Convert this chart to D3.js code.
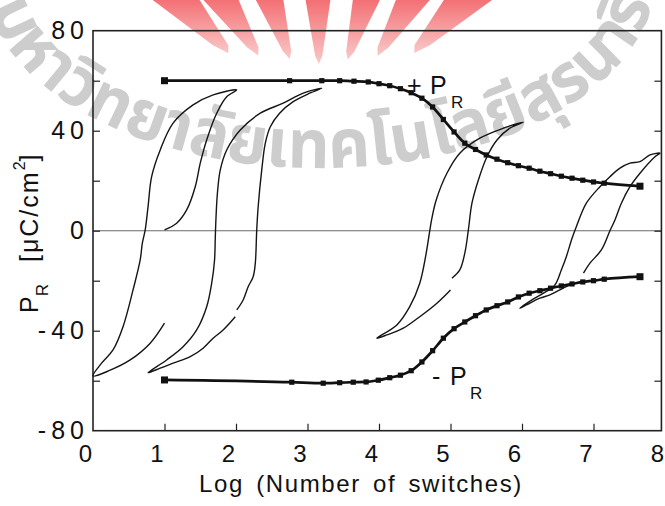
<!DOCTYPE html>
<html><head><meta charset="utf-8">
<script src="https://cdn.jsdelivr.net/npm/d3@7"></script>
<style>
body{margin:0;background:#fff}
svg{display:block}
text{font-family:"Liberation Sans",Arial,Helvetica,sans-serif}
</style>
</head><body>
<svg id="chart" width="665" height="506"></svg>
<script>
// ---------- data ----------
const xTickValues = [0,1,2,3,4,5,6,7,8];
const yTickValues = [-80,-60,-40,-20,0,20,40,60,80];
const yTickLabels = [80,40,0,-40,-80];

const plusX  = [1,2.75,3.2,3.45,3.65,3.85,4.0,4.15,4.3,4.45,4.6,4.75,4.9,5.05,5.2,5.35,5.5,5.65,5.8,5.95,6.1,6.25,6.4,6.55,6.7,6.85,7.0,7.15,7.65];
const plusY  = [60,60,60,60,59.8,59.5,58.8,58,56.8,55.2,53,49.5,44.5,39.5,35,32.5,30.3,28.6,27.2,26,25,23.8,22.8,21.8,21,20.2,19.5,19,17.8];
const minusX = [1,2.78,3.22,3.45,3.64,3.82,3.99,4.15,4.3,4.45,4.6,4.75,4.9,5.05,5.2,5.35,5.5,5.65,5.8,5.95,6.1,6.25,6.4,6.55,6.7,6.85,7.0,7.15,7.65];
const minusY = [-59.7,-60.6,-61,-60.8,-60.6,-60.5,-59.8,-58.8,-57.8,-56,-52.5,-48,-43,-39.2,-36.5,-34,-31.7,-30,-28.5,-26.5,-25,-24,-23,-22.1,-21.3,-20.5,-20,-19.4,-18.4];

const loopA = [[1.0,-37],[0.8,-45],[0.52,-51.7],[0.24,-55.8],[0.0,-58.1],[0.12,-53],[0.28,-47.7],[0.42,-38.4],[0.56,-23.7],[0.66,-11.7],[0.69,-5],[0.73,0.3],[0.77,9.6],[0.82,21.6],[0.94,32.3],[1.12,43],[1.4,50.3],[1.68,54.3],[2.01,56.3],[1.87,53.6],[1.73,47],[1.59,36.3],[1.5,27],[1.43,17.6],[1.31,8.3],[1.17,3],[1.0,0.3]];
const loopB = [[1.99,-34.4],[1.82,-39.7],[1.68,-43],[1.54,-47],[1.36,-50.4],[1.12,-53],[0.94,-55],[0.77,-56.8],[1.03,-51.7],[1.26,-46.4],[1.45,-39.7],[1.59,-30.4],[1.66,-21],[1.7,-11.7],[1.71,-3],[1.72,5],[1.74,15],[1.78,24.3],[1.87,32.3],[2.06,40.3],[2.34,47],[2.66,51],[2.94,55],[3.2,57],[3.03,55],[2.8,51.6],[2.61,47],[2.48,41.6],[2.41,35],[2.36,24.3],[2.31,9.6],[2.29,0.3],[2.27,-13],[2.24,-18.4],[2.17,-22.4],[2.1,-27.7],[2.01,-31.7]];
const loopC = [[5.0,-23.7],[4.81,-29],[4.57,-34.4],[4.34,-39],[4.11,-41.7],[3.97,-43],[4.25,-37.7],[4.43,-30.4],[4.57,-21],[4.66,-9],[4.71,0],[4.74,5],[4.8,12.3],[4.95,23],[5.13,31],[5.41,37],[5.74,41],[6.02,43.4],[5.83,41],[5.65,36.3],[5.51,29.6],[5.39,20.3],[5.3,11],[5.25,0.3],[5.2,-9],[5.13,-15.7],[5.02,-19]];
const loopD = [[6.76,-21],[6.62,-22.4],[6.53,-23.7],[6.39,-25.7],[6.25,-27],[6.06,-29.7],[5.97,-31],[6.15,-27.5],[6.3,-25],[6.46,-21.7],[6.55,-15.7],[6.62,-10.4],[6.7,-3],[6.76,1.6],[6.9,11],[7.09,17.6],[7.23,21.6],[7.37,25],[7.51,27],[7.65,27.6],[7.79,30.3],[7.93,31],[7.86,29.6],[7.65,23],[7.51,17.6],[7.39,11],[7.3,4.3],[7.23,0],[7.11,-7.7],[6.95,-13],[6.86,-17]];
const loops = [loopA, loopB, loopC, loopD];

const watermarkText = "มหาวิทยาลัยเทคโนโลยีสุรนารี";
const rayTopX = [178,222,270,318,366,412,466];

// ---------- drawing ----------
const svg = d3.select("#chart");
const x = d3.scaleLinear().domain([0,8]).range([93,665]);
const y = d3.scaleLinear().domain([-80,80]).range([430.7,30.7]);
const xRight = x(7.95);

// watermark
const defs = svg.append("defs");
const grad = defs.append("linearGradient").attr("id","rayGrad").attr("x1",0).attr("y1",0).attr("x2",0).attr("y2",1);
grad.append("stop").attr("offset","0%").attr("stop-color","#ef3e44");
grad.append("stop").attr("offset","100%").attr("stop-color","#f8b8b8");
const wm = svg.append("g");
const vp = [320,150];
rayTopX.forEach(tx => {
  const th = Math.atan2(tx - vp[0], vp[1]);
  const w = 0.085;
  const pt = (ang, yy) => { const r = (vp[1]-yy)/Math.cos(ang); return [vp[0]+r*Math.sin(ang), yy]; };
  const yb = 60 - 12*Math.abs(Math.sin(th))*1.3;
  const poly = [pt(th-w,-5), pt(th+w,-5), pt(th+w*0.45,yb-4), pt(th,yb+4), pt(th-w*0.45,yb-4)];
  wm.append("polygon").attr("points", poly.map(p=>p.join(",")).join(" ")).attr("fill","url(#rayGrad)").attr("opacity",0.78);
});
const cx=320, cy=-22, rx=335, ry=190;
defs.append("path").attr("id","wmArc").attr("d",`M${cx-rx},${cy} A${rx},${ry} 0 0 0 ${cx+rx},${cy}`);
wm.append("text").attr("font-size",68).attr("font-weight","bold").attr("fill","#cdcdcd").style("fill","#cdcdcd")
  .style("font-family","'Noto Sans Thai','Loma','Garuda','Norasi','DejaVu Sans',sans-serif")
  .append("textPath").attr("href","#wmArc").attr("startOffset",30).attr("textLength",785).attr("lengthAdjust","spacingAndGlyphs")
  .attr("fill","#cdcdcd").style("fill","#cdcdcd")
  .text(watermarkText);

// zero line
svg.append("line").attr("x1",x(0)).attr("x2",xRight).attr("y1",y(0)).attr("y2",y(0))
  .attr("stroke","#6a6a6a").attr("stroke-width",1.1);

// axes (inward ticks)
const gL = svg.append("g").attr("transform",`translate(${x(0)},0)`)
  .call(d3.axisLeft(y).tickValues(yTickValues).tickSize(-7).tickPadding(4)
    .tickFormat(d => yTickLabels.includes(d) ? String(d) : ""));
const gR = svg.append("g").attr("transform",`translate(${xRight},0)`)
  .call(d3.axisRight(y).tickValues(yTickValues.slice(1,-1)).tickSize(-7).tickFormat(""));
const gB = svg.append("g").attr("transform",`translate(0,${y(-80)})`)
  .call(d3.axisBottom(x).tickValues(xTickValues).tickSize(-7).tickPadding(14));
[gL,gR,gB].forEach(g => { g.select(".domain").remove(); g.selectAll(".tick line").attr("stroke","#222").attr("stroke-width",1.2); });
gB.selectAll(".tick line").filter(d => d===0 || d===8).remove();
gL.selectAll(".tick line").filter(d => d===80 || d===-80).remove();
gL.selectAll("text").attr("font-size",25).attr("letter-spacing","5px").attr("x",-4).style("fill","#111").attr("font-family",null);
gB.selectAll("text").attr("font-size",24).attr("dx",-8).style("fill","#111").attr("font-family",null);

// frame
svg.append("rect").attr("x",x(0)).attr("y",y(80)).attr("width",xRight-x(0)).attr("height",y(-80)-y(80))
  .attr("fill","none").attr("stroke","#222").attr("stroke-width",1.6);

// loops
const loopLine = d3.line().x(d=>x(d[0])).y(d=>y(d[1])).curve(d3.curveCatmullRom.alpha(0.5));
svg.append("g").selectAll("path").data(loops).join("path")
  .attr("d", loopLine).attr("fill","none").attr("stroke","#151515").attr("stroke-width",1.4);

// PR curves
function prCurve(xs, ys){
  const pts = xs.map((v,i)=>[v, ys[i]]);
  const line = d3.line().x(d=>x(d[0])).y(d=>y(d[1])).curve(d3.curveMonotoneX);
  svg.append("path").attr("d", line(pts)).attr("fill","none").attr("stroke","#111").attr("stroke-width",2.7);
  svg.append("g").selectAll("rect").data(pts).join("rect")
    .attr("x", (d,i)=> x(d[0]) - ((i===0||i===pts.length-1)?3.5:2.6))
    .attr("y", (d,i)=> y(d[1]) - ((i===0||i===pts.length-1)?3.5:2.6))
    .attr("width", (d,i)=> (i===0||i===pts.length-1)?7:5.2)
    .attr("height", (d,i)=> (i===0||i===pts.length-1)?7:5.2)
    .attr("fill","#111");
}
prCurve(plusX, plusY);
prCurve(minusX, minusY);

// series labels
const lab = svg.append("g").style("fill","#111");
lab.append("text").attr("x",407).attr("y",94).attr("font-size",25).text("+");
lab.append("text").attr("x",430).attr("y",94).attr("font-size",25).text("P");
lab.append("text").attr("x",451).attr("y",108).attr("font-size",17).text("R");
lab.append("text").attr("x",432).attr("y",385).attr("font-size",25).text("-");
lab.append("text").attr("x",450).attr("y",385).attr("font-size",25).text("P");
lab.append("text").attr("x",470).attr("y",399).attr("font-size",17).text("R");

// y axis title
const yt = svg.append("text").attr("transform","translate(38,313) rotate(-90)").attr("font-size",25).style("fill","#111");
yt.append("tspan").text("P");
yt.append("tspan").attr("font-size",17).attr("dy",10).text("R");
yt.append("tspan").attr("dy",-10).attr("dx",22).attr("letter-spacing","2px").text("[μC/cm");
yt.append("tspan").attr("font-size",16).attr("dy",-13).text("2");
yt.append("tspan").attr("dy",13).text("]");

// x axis title
svg.append("text").attr("x",361).attr("y",492).attr("text-anchor","middle").attr("font-size",24).style("fill","#111")
  .attr("letter-spacing","1.6px").attr("word-spacing","4px").text("Log (Number of switches)");
</script>
</body></html>
